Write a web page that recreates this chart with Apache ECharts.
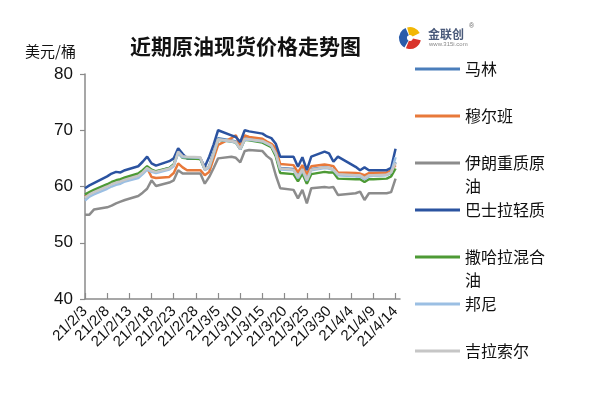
<!DOCTYPE html>
<html>
<head>
<meta charset="utf-8">
<script src="https://cdn.jsdelivr.net/npm/echarts@6/dist/echarts.min.js"></script>
<style>html,body{margin:0;padding:0;background:#fff}#c{width:600px;height:395px}</style>
</head>
<body>
<div id="c"></div>
<script>
// trading dates (yy/M/D)
var dates = ['21/2/3','21/2/4','21/2/5','21/2/8','21/2/9','21/2/10','21/2/11','21/2/12','21/2/15','21/2/16',
 '21/2/17','21/2/18','21/2/19','21/2/22','21/2/23','21/2/24','21/2/25','21/2/26','21/3/1','21/3/2',
 '21/3/3','21/3/4','21/3/5','21/3/8','21/3/9','21/3/10','21/3/11','21/3/12','21/3/15','21/3/16',
 '21/3/17','21/3/18','21/3/19','21/3/22','21/3/23','21/3/24','21/3/25','21/3/26','21/3/29','21/3/30',
 '21/3/31','21/4/1','21/4/5','21/4/6','21/4/7','21/4/8','21/4/9','21/4/12','21/4/13','21/4/14'];

var tickLabels = ['21/2/3','21/2/8','21/2/13','21/2/18','21/2/23','21/2/28','21/3/5','21/3/10','21/3/15','21/3/20','21/3/25','21/3/30','21/4/4','21/4/9','21/4/14'];

var seriesNames = ['马林','穆尔班','伊朗重质原油','巴士拉轻质','撒哈拉混合油','邦尼','吉拉索尔'];

var malin = [58.3,58.8,59.2,60.2,60.6,60.9,61.0,61.4,62.0,62.7,63.5,62.9,62.6,63.3,63.9,66.3,65.3,65.1,65.0,63.1,
 63.6,66.0,68.6,68.2,68.0,66.8,68.6,68.5,68.2,67.8,67.4,66.0,63.3,63.1,61.8,63.2,61.3,63.1,63.4,63.3,
 63.0,62.1,62.0,62.0,61.5,62.0,62.0,62.1,62.4,64.3];
var murban = [58.2,58.7,59.1,60.1,60.5,60.8,61.0,61.3,62.0,62.6,63.3,61.7,61.5,61.7,62.4,64.1,63.4,62.9,62.9,62.0,
 62.6,65.0,67.4,68.6,69.1,67.1,69.1,68.8,68.5,68.0,67.6,66.8,64.0,63.8,62.5,63.8,62.2,63.6,63.9,63.8,
 63.6,62.5,62.4,62.3,62.0,62.4,62.4,62.5,62.8,63.8];
var iranHeavy = [55.0,55.0,55.9,56.3,56.6,57.0,57.3,57.6,58.3,58.9,59.6,61.1,60.1,60.7,61.1,62.9,62.3,62.3,62.3,60.5,
 61.7,63.3,65.0,65.3,65.1,64.3,66.3,66.5,66.3,65.4,64.8,62.0,59.7,59.4,57.9,59.4,57.0,59.7,59.9,59.8,
 59.9,58.5,58.8,59.1,57.6,58.8,58.8,58.8,59.0,61.4];
var basrah = [59.7,60.2,60.6,61.8,62.3,62.6,62.5,62.9,63.6,64.4,65.3,64.1,63.7,64.5,65.0,66.8,65.8,65.0,65.0,63.5,
 65.3,67.5,70.0,69.1,68.8,67.9,70.0,69.8,69.4,68.9,68.6,67.6,65.3,65.3,63.5,65.2,62.9,65.3,66.2,65.9,
 64.4,65.3,63.5,62.9,63.4,62.9,62.9,62.9,63.3,66.7];
var saharan = [58.6,59.0,59.4,60.4,60.8,61.1,61.3,61.6,62.3,62.9,63.6,63.0,62.7,63.3,63.9,66.0,65.1,65.0,64.9,63.0,
 63.5,65.8,68.3,68.0,67.8,66.6,68.3,68.2,67.8,67.4,67.0,65.4,62.4,62.2,60.9,62.3,60.5,62.2,62.6,62.5,
 62.5,61.4,61.3,61.3,60.8,61.3,61.3,61.4,61.8,63.2];
var bonny = [57.5,58.2,58.6,59.6,60.0,60.3,60.5,60.9,61.5,62.2,63.0,62.6,62.4,63.0,63.6,66.0,65.2,65.2,65.1,62.9,
 63.4,65.8,68.3,68.0,67.8,66.6,68.3,68.3,68.0,67.6,67.2,65.8,63.0,62.9,61.5,62.9,61.0,62.9,63.3,63.2,
 62.9,62.0,61.8,61.8,61.3,61.8,61.9,62.0,62.5,65.2];
var girassol = [58.0,58.6,59.0,60.0,60.4,60.7,60.9,61.2,61.9,62.5,63.3,62.8,62.6,63.2,63.8,66.2,65.4,65.3,65.2,63.0,
 63.6,65.9,68.4,68.1,67.9,66.7,68.5,68.4,68.1,67.7,67.3,65.9,63.2,63.0,61.7,63.1,61.2,63.0,63.4,63.3,
 63.0,62.2,62.0,62.0,61.5,62.0,62.0,62.1,62.5,64.2];

var yTicks = [40, 50, 60, 70, 80];

// calendar-day categories for a date axis look (2021-02-03 .. 2021-04-15)
var categories = [];
(function(){
  var d = new Date(2021, 1, 3), end = new Date(2021, 3, 15);
  while (d <= end) {
    categories.push('21/' + (d.getMonth() + 1) + '/' + d.getDate());
    d.setDate(d.getDate() + 1);
  }
})();

var values = [malin, murban, iranHeavy, basrah, saharan, bonny, girassol];
var colors = ['#4A7EBB','#E8793A','#8C8C8C','#2B53A0','#4D9A35','#9BBFE3','#C6C6C6'];

var series = seriesNames.map(function(n, i){
  return {
    name: n, type: 'line', showSymbol: false, symbol: 'none',
    lineStyle: { width: 2.5, color: colors[i] }, itemStyle: { color: colors[i] },
    data: dates.map(function(dt, j){ return [dt, values[i][j]]; }),
    z: 2 + i
  };
});

var legendCenters = [69, 116, 163, 210, 257, 304, 351];
var LH = 23;
var legends = seriesNames.map(function(n, i){
  var multi = (n === '伊朗重质原油' || n === '撒哈拉混合油');
  return {
    data: [n], orient: 'vertical', left: 415,
    top: multi ? legendCenters[i] - LH * 1.5 : legendCenters[i] - LH / 2,
    padding: 0, itemWidth: 45, itemHeight: 3, icon: 'rect',
    selectedMode: false,
    textStyle: { fontSize: 16, lineHeight: LH, color: '#111', fontFamily: 'Noto Sans CJK SC' },
    formatter: function(name){
      if (name === '伊朗重质原油') return '\n伊朗重质原\n油';
      if (name === '撒哈拉混合油') return '\n撒哈拉混合\n油';
      return name;
    }
  };
});

var chart = echarts.init(document.getElementById('c'), null, {renderer: 'canvas'});
chart.setOption({
  backgroundColor: '#fff',
  animation: false,
  color: colors,
  title: [
    { text: '近期原油现货价格走势图', left: 130, top: 36, padding: 0,
      textStyle: { fontSize: 21, fontWeight: 'bold', color: '#111', fontFamily: 'Noto Sans CJK SC' } },
    { text: '美元/桶', left: 25, top: 44, padding: 0,
      textStyle: { fontSize: 15, fontWeight: 'normal', color: '#111', fontFamily: 'Noto Sans CJK SC' } }
  ],
  legend: legends,
  grid: { left: 85, top: 74, width: 315, height: 225, containLabel: false },
  xAxis: {
    type: 'category', data: categories, boundaryGap: false,
    axisLine: { lineStyle: { color: '#8a8a8a', width: 1.5 } },
    axisTick: { show: true, inside: true, length: 6, interval: 4, lineStyle: { color: '#8a8a8a', width: 1.2 } },
    axisLabel: {
      interval: function(idx, val){ return tickLabels.indexOf(val) >= 0; },
      rotate: 45, margin: 10, fontSize: 15, color: '#111', fontFamily: 'Liberation Sans'
    },
    splitLine: { show: false }
  },
  yAxis: {
    type: 'value', min: yTicks[0], max: yTicks[yTicks.length - 1], interval: 10,
    axisLine: { show: true, lineStyle: { color: '#8a8a8a', width: 1.5 } },
    axisTick: { show: true, length: 5, lineStyle: { color: '#8a8a8a', width: 1.2 } },
    axisLabel: { fontSize: 17, color: '#111', margin: 12, fontFamily: 'Liberation Sans' },
    splitLine: { show: false }
  },
  graphic: [
    { type: 'sector', shape: { cx: 410, cy: 38, r: 11, r0: 3, startAngle: 2.1, endAngle: 4.3 }, style: { fill: '#2A5CAA' } },
    { type: 'sector', shape: { cx: 410, cy: 38, r: 11, r0: 3, startAngle: 4.45, endAngle: 5.8 }, style: { fill: '#F2B705' } },
    { type: 'sector', shape: { cx: 410, cy: 38, r: 11, r0: 3, startAngle: 0.2, endAngle: 1.95 }, style: { fill: '#D9342B' } },
    { type: 'text', left: 428, top: 28, style: { text: '金联创', fontSize: 12, fontWeight: 'bold', fill: '#4A5A7A', fontFamily: 'Noto Sans CJK SC' } },
    { type: 'text', left: 469, top: 23, style: { text: '®', fontSize: 7, fill: '#666' } },
    { type: 'text', left: 429, top: 41, style: { text: 'www.315i.com', fontSize: 6, fill: '#888', fontFamily: 'Liberation Sans' } }
  ],
  series: series
});
</script>
</body>
</html>
